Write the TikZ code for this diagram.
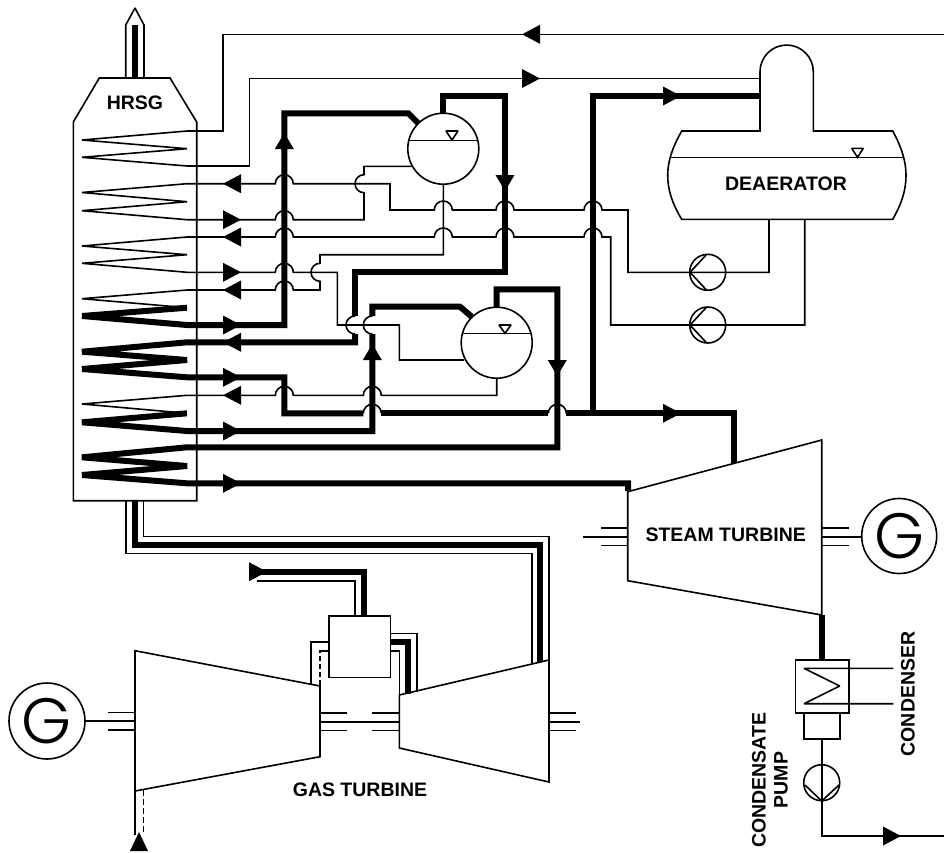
\documentclass[tikz,border=0pt]{standalone}
\usepackage{fontspec}
\setmainfont{Liberation Sans}
\newfontfamily\gfont{Poppins Light}
\tikzset{
  thin line/.style={line width=1.6pt,line join=miter,miter limit=2},
  thick line/.style={line width=6pt,line join=miter,miter limit=2},
  vessel/.style={line width=1.6pt,fill=white},
  lbl/.style={font=\fontsize{19.5}{22}\selectfont\bfseries,inner sep=0pt,align=center},
  genletter/.style={font=\gfont\fontsize{64}{64}\selectfont,inner sep=0pt},
  tip/.style={fill=black,draw=none}
}
\def\HH#1#2{-- (#1-9,#2) arc[start angle=180,end angle=0,radius=9pt]}
\def\CD#1#2{-- (#1,#2-9) arc[start angle=90,end angle=270,radius=9pt]}
\def\CU#1#2{-- (#1,#2+9) arc[start angle=270,end angle=90,radius=9pt]}
\newcommand\tipR[2]{\fill[tip] (#1,#2-9.5) -- (#1+18,#2) -- (#1,#2+9.5) -- cycle;}
\newcommand\tipL[2]{\fill[tip] (#1,#2-9.5) -- (#1-18,#2) -- (#1,#2+9.5) -- cycle;}
\newcommand\tipU[2]{\fill[tip] (#1-9.5,#2) -- (#1,#2-16) -- (#1+9.5,#2) -- cycle;}
\newcommand\tipD[2]{\fill[tip] (#1-9.5,#2) -- (#1,#2+16) -- (#1+9.5,#2) -- cycle;}
\begin{document}
\begin{tikzpicture}[x=1pt,y=-1pt]
\useasboundingbox (0,0) rectangle (944,852);
% stack
\draw[thin line] (125.7,78) -- (125.7,25) -- (135,8) -- (144,25) -- (144,78);
\draw[thick line] (135,25) -- (135,78);
% HRSG casing
\draw[thin line] (99.3,78) -- (170,78) -- (196.7,122) -- (196.7,500.7) -- (73.3,500.7) -- (73.3,122) -- cycle;
\node[lbl] (hrsg) at (135,103) {HRSG};
% flue gas duct
\draw[thin line] (125.7,500.7) -- (125.7,553.3) -- (531.7,553.3) -- (531.7,663);
\draw[thin line] (143.3,500.7) -- (143.3,536.5) -- (549,536.5) -- (549,660);
\draw[thick line] (134.7,500.7) -- (134.7,545) -- (540,545) -- (540,662);
% thin water lines
\draw[thin line] (187,131) -- (222.7,131) -- (222.7,34.3) -- (944,34.3);
\draw[thin line] (187,166) -- (249.3,166) -- (249.3,78.5) -- (760,78.5);
\draw[thin line] (187,183.7) \HH{284.3}{183.7} -- (390,183.7) -- (390,210) \HH{443.3}{210} \HH{505}{210} \HH{593}{210} -- (628,210) -- (628,272.3) -- (769,272.3) -- (769,219.3);
\draw[thin line] (187,219.7) \HH{284.3}{219.7} -- (364,219.7) \CU{364}{183.7} -- (364,166.3) -- (411.7,166.3);
\draw[thin line] (187,237) \HH{284.3}{237} \HH{443.3}{237} \HH{505}{237} \HH{593}{237} -- (610.7,237) -- (610.7,325) -- (804.7,325) -- (804.7,219.3);
\draw[thin line] (187,272.3) \HH{284.3}{272.3} -- (337.3,272.3) -- (337.3,325) -- (399.3,325) -- (399.3,360) -- (464,360);
\draw[thin line] (187,290) \HH{284.3}{290} -- (320,290) \CU{320}{272.3} -- (320,254.7) -- (443.3,254.7) -- (443.3,184);
\draw[thin line] (187,395.3) \HH{284.3}{395.3} \HH{372.3}{395.3} -- (496.7,395.3) -- (496.7,378);
% thin coil parts
\draw[thin line] (187,131) -- (82,140) -- (187,148.7) -- (82,157.3) -- (187,166);
\draw[thin line] (187,183.7) -- (82,192.5) -- (187,201.7) -- (82,210.7) -- (187,219.7);
\draw[thin line] (187,237) -- (82,246) -- (187,254.7) -- (82,263.3) -- (187,272.3);
\draw[thin line] (187,290) -- (82,298.7) -- (187,307.7);
\draw[thin line] (187,395.3) -- (82,404) -- (187,413.3);
% thick steam lines
\draw[thick line] (187,307.7) -- (82,316) -- (187,325) -- (284.3,325) -- (284.3,113.3) -- (408.3,113.3) -- (418.3,123.3);
\draw[thick line] (355,334) -- (355,342.3) -- (187,342.3) -- (82,351.7) -- (187,360) -- (82,369) -- (187,377.3) -- (284.3,377.3) -- (284.3,413.3) -- (363.3,413.3);
\draw[thick line] (355,316) -- (355,272) -- (505,272) -- (505,95.7) -- (443.3,95.7) -- (443.3,113.3);
\draw[thick line] (381.3,413.3) -- (548.3,413.3);
\draw[thick line] (566.3,413.3) -- (734,413.3) -- (734,463);
\draw[thick line] (593,413.3) -- (593,96) -- (760,96);
\draw[thick line] (187,413.3) -- (82,422.3) -- (187,431) -- (372.3,431) -- (372.3,334);
\draw[thick line] (372.3,316) -- (372.3,306.7) -- (460,306.7) -- (471.7,316.7);
\draw[thick line] (496.7,307) -- (496.7,289.3) -- (557.3,289.3) -- (557.3,447.3) -- (187,447.3) -- (82,457.3) -- (187,466) -- (82,475) -- (187,483.3) -- (628,483.3) -- (628,491);
% hops of thick lines
\draw[thin line] (355,316) arc[start angle=90,end angle=270,radius=9pt];
\draw[thin line] (372.3,316) arc[start angle=90,end angle=270,radius=9pt];
\draw[thin line] (363.3,413.3) arc[start angle=180,end angle=0,radius=9pt];
\draw[thin line] (548.3,413.3) arc[start angle=180,end angle=0,radius=9pt];
% drums
\draw[vessel] (443.3,148.7) circle[radius=35.5pt];
\draw[thin line] (408.5,140.3) -- (478,140.3);
\draw[thin line] (446,131) -- (458,131) -- (452,140) -- cycle;
\draw[vessel] (496.7,342.7) circle[radius=35.5pt];
\draw[thin line] (462,333.3) -- (531.5,333.3);
\draw[thin line] (499,325) -- (511,325) -- (505,333.3) -- cycle;
% deaerator
\draw[vessel] (760,131) -- (760,71.7) arc[start angle=180,end angle=0,radius=26.65pt] -- (813.3,131) -- (892.7,131)
  .. controls (902,148) and (906,162) .. (906,175) .. controls (906,190) and (902,203) .. (892.7,219.3)
  -- (681.7,219.3) .. controls (672,203) and (667.7,190) .. (667.7,175) .. controls (667.7,162) and (672,148) .. (681.7,131) -- cycle;
\draw[thin line] (670,157.3) -- (904,157.3);
\draw[thin line] (851.7,148.3) -- (863.3,148.3) -- (857.5,157.3) -- cycle;
\node[lbl] (dea) at (786,183.3) {DEAERATOR};
% pumps
\draw[thin line] (707.7,272.3) circle[radius=18pt];
\draw[thin line] (706.7,254.3) -- (690,272.3) -- (706.7,290.3);
\draw[thin line] (707.7,325) circle[radius=18pt];
\draw[thin line] (706.7,307) -- (690,325) -- (706.7,343);
% steam turbine
\draw[thin line] (627.7,491.7) -- (821.7,440) -- (821.7,615) -- (627.7,580.7) -- cycle;
\node[lbl] (st) at (725.7,535) {STEAM TURBINE};
\draw[thin line] (601,527.7) -- (627.7,527.7) (583,536.7) -- (627.7,536.7) (601,545.3) -- (627.7,545.3);
\draw[thin line] (821.7,527.7) -- (849,527.7) (821.7,536.7) -- (861.7,536.7) (821.7,545.3) -- (849,545.3);
\draw[thin line] (899.2,536) circle[radius=37.5pt];
\node[genletter] (g1) at (900,536) {G};
% condenser
\draw[thick line] (821.7,615) -- (821.7,660);
\draw[thin line] (795.3,660) rectangle (848.7,712.7);
\draw[thin line] (804,712.7) rectangle (839.7,739);
\draw[thin line] (893.3,668.3) -- (804,668.3) -- (839.7,686) -- (804,703.7) -- (893.3,703.7);
\draw[thin line] (821.7,739) -- (821.7,836) -- (944,836);
\draw[thin line] (821.7,782.7) circle[radius=18pt];
\draw[thin line] (805,785) -- (821.7,801) -- (839,785);
\node[lbl,rotate=90] (cond) at (908,694) {CONDENSER};
\node[lbl,rotate=90] (cp) at (770,780) {CONDENSATE\\PUMP};
% gas turbine
\draw[thin line] (135,650.7) -- (320,686) -- (320,756.7) -- (135,791) -- cycle;
\draw[thin line] (399.3,695) -- (549,660) -- (549,782) -- (399.3,748) -- cycle;
\node[lbl] (gt) at (360,790) {GAS TURBINE};
\draw[thin line] (107.7,712.3) -- (135,712.3) (85,721) -- (135,721) (107.7,730) -- (135,730);
\draw[thin line] (320,712.7) -- (346.7,712.7) (320,721.7) -- (399.3,721.7) (320,730.3) -- (346.7,730.3);
\draw[thin line] (372,712.7) -- (399.3,712.7) (372,730.3) -- (399.3,730.3);
\draw[thin line] (549,712.7) -- (575.7,712.7) (549,721.7) -- (580,721.7) (549,730.3) -- (575.7,730.3);
\draw[thin line] (47,721) circle[radius=38pt];
\node[genletter] (g2) at (47,721) {G};
% combustor
\draw[thick line] (250,571.7) -- (364,571.7) -- (364,615.7);
\draw[thin line] (256.7,580.7) -- (355,580.7) -- (355,615.7);
\draw[thin line] (390.3,633.3) -- (416.7,633.3) -- (416.7,692);
\draw[thick line] (390.3,642.3) -- (408.3,642.3) -- (408.3,694);
\draw[thin line] (390.3,651) -- (399.3,651) -- (399.3,695);
\draw[thin line] (328.7,642) -- (310.7,642) -- (310.7,684);
\draw[thin line] (328.7,651) -- (320,651) -- (320,686);
\draw[thin line,white,dash pattern=on 3pt off 5pt] (320,653) -- (320,684);
\draw[vessel] (328.7,615.7) rectangle (390.3,677.3);
% air inlet
\draw[thin line] (135,791) -- (135,835);
\draw[thin line,dash pattern=on 6pt off 3pt] (143.3,790) -- (143.3,835);
\fill[tip] (130,851) -- (139,832) -- (148,851) -- cycle;
% arrowheads
\tipL{540}{34.3}
\tipR{522}{78.5}
\tipR{663}{96}
\tipL{241}{183.7}
\tipR{223}{219.7}
\tipL{241}{237}
\tipR{223}{272.3}
\tipL{241}{290}
\tipR{223}{325}
\tipL{241}{342.3}
\tipR{223}{377.3}
\tipL{241}{395.3}
\tipR{223}{431}
\tipR{223}{483.3}
\tipR{663}{413.3}
\tipR{883}{836}
\tipR{249}{571.7}
\tipU{284.3}{149}
\tipU{372.3}{360}
\tipD{505}{175}
\tipD{557.3}{360}
\end{tikzpicture}
\end{document}
